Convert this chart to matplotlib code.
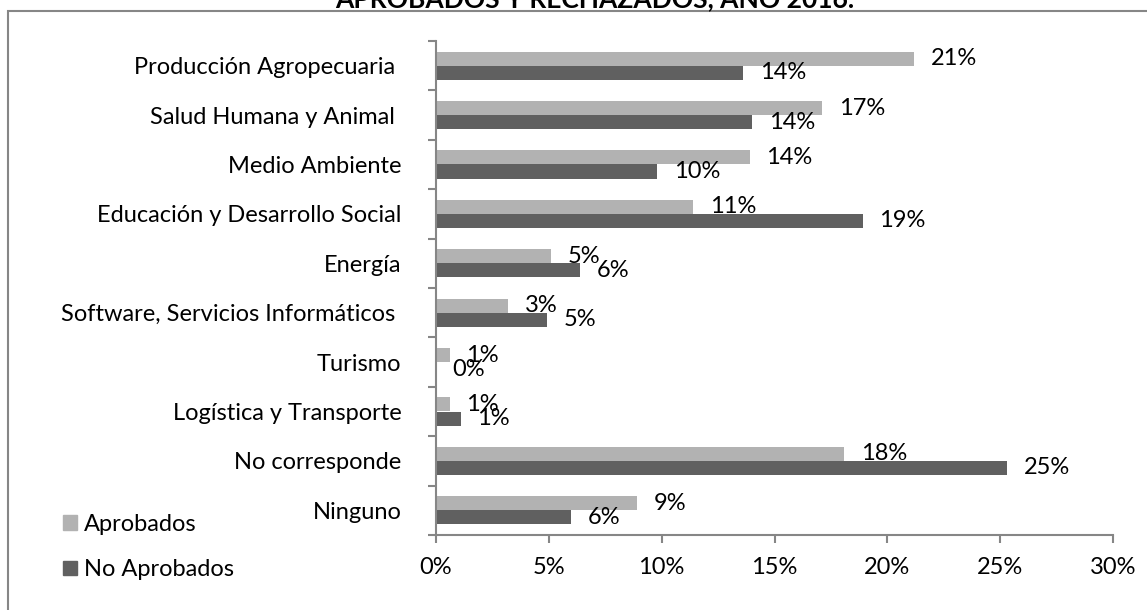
import matplotlib
matplotlib.use("Agg")
import matplotlib.pyplot as plt
import numpy as np
from matplotlib.patches import Rectangle, Patch

plt.rcParams["font.family"] = ["Lato", "DejaVu Sans"]

categories = [
    "Producción Agropecuaria ",
    "Salud Humana y Animal ",
    "Medio Ambiente",
    "Educación y Desarrollo Social",
    "Energía",
    "Software, Servicios Informáticos ",
    "Turismo",
    "Logística y Transporte",
    "No corresponde",
    "Ninguno",
]
aprobados = [21.2, 17.1, 13.9, 11.4, 5.1, 3.2, 0.6, 0.6, 18.1, 8.9]
no_aprobados = [13.6, 14.0, 9.8, 18.9, 6.4, 4.9, 0.0, 1.1, 25.3, 6.0]
series_names = ["Aprobados", "No Aprobados"]
x_ticks = [0, 5, 10, 15, 20, 25, 30]
title = "APROBADOS Y RECHAZADOS, AÑO 2016."

LIGHT = "#b2b2b2"
DARK = "#606060"
AXIS = "#868686"
FS = 17

W, H = 1147, 610
fig = plt.figure(figsize=(W / 100, H / 100), dpi=100)
ax = fig.add_axes([436 / W, 1 - 535 / H, (1113 - 436) / W, (535 - 41) / H])

n = len(categories)
y = np.arange(n)
h = 0.285
ax.barh(y - h / 2, aprobados, height=h, color=LIGHT, label=series_names[0])
ax.barh(y + h / 2, no_aprobados, height=h, color=DARK, label=series_names[1])

for yi, v in zip(y - h / 2, aprobados):
    ax.annotate(f"{v:.0f}%", (v, yi), xytext=(12, 0), textcoords="offset points",
                ha="left", va="center", fontsize=FS)
for yi, v in zip(y + h / 2, no_aprobados):
    ax.annotate(f"{v:.0f}%", (v, yi), xytext=(12, 0), textcoords="offset points",
                ha="left", va="center", fontsize=FS)

ax.set_ylim(n - 0.5, -0.5)
ax.set_xlim(0, 30)
ax.set_yticks(y)
ax.set_yticklabels(categories, fontsize=FS)
ax.set_yticks(np.arange(n + 1) - 0.5, minor=True)
ax.tick_params(axis="y", which="major", length=0, pad=25)
ax.tick_params(axis="y", which="minor", length=6, color=AXIS, width=1.5)
ax.set_xticks(x_ticks)
ax.set_xticklabels([f"{t}%" for t in x_ticks], fontsize=FS)
ax.tick_params(axis="x", length=6, color=AXIS, width=1.5, pad=10)

for s in ["top", "right"]:
    ax.spines[s].set_visible(False)
for s in ["left", "bottom"]:
    ax.spines[s].set_color(AXIS)
    ax.spines[s].set_linewidth(1.5)

# legend in the lower left corner
handles = [Patch(color=LIGHT), Patch(color=DARK)]
fig.legend(handles, series_names, loc="upper left", bbox_to_anchor=(46 / W, 1 - 497 / H),
           frameon=False, fontsize=FS, handlelength=0.6, handleheight=0.6,
           handletextpad=0.3, labelspacing=1.05, borderpad=0.2)

# outer frame (runs off the right and bottom edges)
fig.add_artist(Rectangle((8 / W, -0.05), 1.1, 1 - 11 / H + 0.05, transform=fig.transFigure,
                         fill=False, edgecolor=AXIS, linewidth=1.5))

# title, mostly cut off at the top
fig.text(595 / W, 1 - 8 / H, title, ha="center", va="baseline",
         fontsize=19, fontweight="bold")

fig.savefig("out.png", dpi=100)
